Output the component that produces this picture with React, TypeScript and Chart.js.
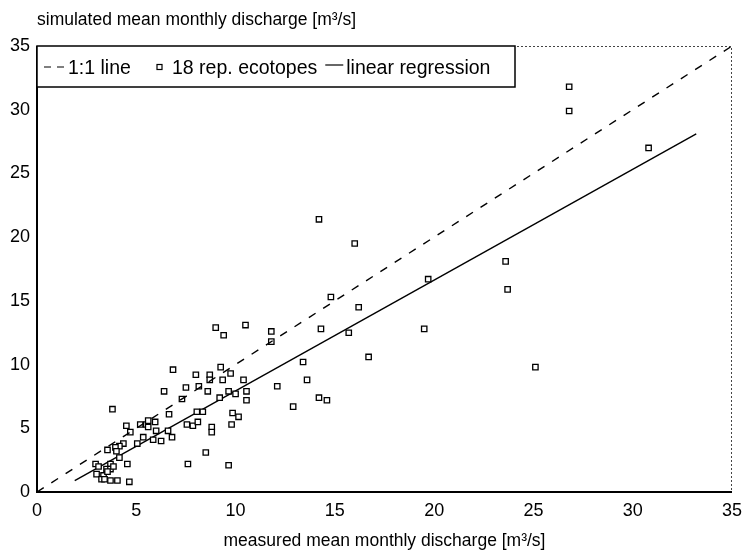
import React, { useEffect, useRef } from "react";
import { Chart, registerables } from "chart.js";

Chart.register(...registerables);

// measured (x) and simulated (y) mean monthly discharge, m³/s
const measured = [
  26.8, 26.8, 30.8, 23.6, 23.7, 25.1, 19.7, 19.5, 16.7, 14.2,
  16.0, 14.8, 16.2, 15.7, 14.3, 13.4, 13.6, 12.1, 12.9, 14.2,
  14.6, 11.8, 11.8, 9.0, 9.4, 10.5, 9.25, 8.7, 8.7, 9.75,
  9.35, 10.4, 6.85, 8.0, 8.15, 7.5, 6.4, 8.6, 9.65, 10.0,
  10.55, 10.55, 9.2, 7.3, 6.65, 8.05, 8.35, 9.85, 10.15, 9.8,
  8.8, 8.8, 7.55, 7.85, 8.1, 7.6, 8.5, 9.65, 3.8, 4.5,
  4.7, 5.2, 5.5, 5.6, 5.95, 5.6, 6.0, 6.6, 5.85, 6.25,
  6.8, 5.35, 5.05, 4.35, 4.15, 3.95, 4.0, 3.55, 4.15, 3.7,
  4.55, 2.95, 3.1, 3.5, 3.7, 3.85, 3.0, 3.35, 3.55, 3.25,
  3.4, 3.7, 4.05, 4.65,
];
const simulated = [
  31.8, 29.9, 27.0, 18.1, 15.9, 9.8, 16.7, 12.8, 10.6, 21.4,
  19.5, 15.3, 14.5, 12.5, 12.8, 10.2, 8.8, 8.3, 6.7, 7.4,
  7.2, 12.6, 11.8, 12.9, 12.3, 13.1, 9.8, 9.2, 8.8, 9.3,
  8.8, 8.8, 9.6, 9.2, 8.3, 8.2, 7.9, 7.9, 7.9, 7.7,
  7.9, 7.2, 7.4, 7.3, 6.1, 6.3, 6.3, 6.2, 5.9, 5.3,
  5.1, 4.7, 5.3, 5.2, 5.5, 2.2, 3.1, 2.1, 6.5, 5.2,
  4.7, 5.3, 5.3, 5.6, 5.5, 5.1, 4.8, 4.8, 4.1, 4.0,
  4.3, 4.3, 3.8, 3.8, 3.6, 3.5, 3.2, 3.3, 2.7, 2.2,
  2.2, 2.2, 2.0, 1.8, 1.8, 2.0, 1.4, 1.3, 1.6, 1.0,
  1.0, 0.9, 0.9, 0.8,
];

const oneToOneX = [0, 35];
const oneToOneY = [0, 35];
const regressionX = [1.9, 33.2];
const regressionY = [0.9, 28.1];

const axisTicks = [0, 5, 10, 15, 20, 25, 30, 35];
const seriesLabels = ["1:1 line", "18 rep. ecotopes", "linear regression"];
const yTitle = "simulated mean monthly discharge [m³/s]";
const xTitle = "measured mean monthly discharge [m³/s]";

const FONT = '"Liberation Sans", Arial, Helvetica, sans-serif';

const decorPlugin = {
  id: "decor",
  afterDraw(chart: any) {
    const { ctx, chartArea } = chart;
    const { left, right, top, bottom } = chartArea;
    ctx.save();
    // dotted top / right frame
    ctx.strokeStyle = "#444";
    ctx.lineWidth = 1;
    ctx.setLineDash([2, 2]);
    ctx.beginPath();
    ctx.moveTo(left, top + 0.5);
    ctx.lineTo(right - 0.5, top + 0.5);
    ctx.lineTo(right - 0.5, bottom);
    ctx.stroke();
    ctx.setLineDash([]);
    // solid left / bottom axes
    ctx.strokeStyle = "#000";
    ctx.lineWidth = 2;
    ctx.beginPath();
    ctx.moveTo(left, top);
    ctx.lineTo(left, bottom);
    ctx.lineTo(right, bottom);
    ctx.stroke();

    // axis titles
    ctx.fillStyle = "#000";
    ctx.font = `17.5px ${FONT}`;
    ctx.textBaseline = "middle";
    ctx.textAlign = "left";
    ctx.fillText(yTitle, left, 20);
    ctx.textAlign = "center";
    ctx.fillText(xTitle, (left + right) / 2, 541);

    // legend box
    const ds = chart.data.datasets;
    const lh = 41;
    const cy = top + 22;
    ctx.font = `19.5px ${FONT}`;
    const boxRight = left + 478;
    ctx.fillStyle = "#fff";
    ctx.fillRect(left, top, boxRight - left, lh);
    ctx.strokeStyle = "#000";
    ctx.lineWidth = 1.5;
    ctx.strokeRect(left, top, boxRight - left, lh);
    ctx.fillStyle = "#000";
    ctx.textAlign = "left";
    // item 1: dashed line
    let x = left + 7;
    ctx.lineWidth = 1.2;
    ctx.setLineDash([7, 6]);
    ctx.beginPath();
    ctx.moveTo(x, cy - 1);
    ctx.lineTo(x + 20, cy - 1);
    ctx.stroke();
    ctx.setLineDash([]);
    x += 24;
    ctx.fillText(ds[0].label, x, cy + 1);
    // item 2: square marker
    x = left + 120;
    ctx.strokeRect(x, cy - 3.5, 5, 5);
    x += 15;
    ctx.fillText(ds[1].label, x, cy + 1);
    // item 3: solid line
    x += ctx.measureText(ds[1].label).width + 8;
    ctx.beginPath();
    ctx.moveTo(x, cy - 3);
    ctx.lineTo(x + 18, cy - 3);
    ctx.stroke();
    x += 21;
    ctx.fillText(ds[2].label, x, cy + 1);
    ctx.restore();
  },
};

export default function App() {
  const ref = useRef<HTMLCanvasElement | null>(null);
  useEffect(() => {
    document.body.style.margin = "0";
    const canvas = ref.current;
    if (!canvas) return;
    const chart = new Chart(canvas, {
      type: "scatter",
      data: {
        datasets: [
          {
            type: "line",
            label: seriesLabels[0],
            data: oneToOneX.map((v, i) => ({ x: v, y: oneToOneY[i] })),
            borderColor: "#000",
            borderWidth: 1.4,
            borderDash: [8, 9],
            pointRadius: 0,
            fill: false,
          },
          {
            type: "scatter",
            label: seriesLabels[1],
            data: measured.map((v, i) => ({ x: v, y: simulated[i] })),
            pointStyle: "rect",
            pointRadius: 3.8,
            borderWidth: 1.3,
            borderColor: "#000",
            backgroundColor: "#fff",
          },
          {
            type: "line",
            label: seriesLabels[2],
            data: regressionX.map((v, i) => ({ x: v, y: regressionY[i] })),
            borderColor: "#000",
            borderWidth: 1.4,
            pointRadius: 0,
            fill: false,
          },
        ],
      },
      options: {
        animation: false,
        responsive: true,
        maintainAspectRatio: false,
        layout: { padding: { top: 46, right: 15, left: 0, bottom: 0 } },
        plugins: { legend: { display: false }, tooltip: { enabled: false } },
        scales: {
          x: {
            type: "linear",
            min: 0,
            max: 35,
            afterFit: (s: any) => {
              s.height = 63;
            },
            afterBuildTicks: (s: any) => {
              s.ticks = axisTicks.map((v) => ({ value: v }));
            },
            grid: { display: false, drawTicks: false },
            border: { display: false },
            ticks: {
              padding: 8,
              color: "#000",
              font: { family: FONT, size: 18 },
              maxRotation: 0,
            },
          },
          y: {
            type: "linear",
            min: 0,
            max: 35,
            afterFit: (s: any) => {
              s.width = 37;
            },
            afterBuildTicks: (s: any) => {
              s.ticks = axisTicks.map((v) => ({ value: v }));
            },
            grid: { display: false, drawTicks: false },
            border: { display: false },
            ticks: {
              padding: 7,
              color: "#000",
              font: { family: FONT, size: 18 },
            },
          },
        },
      },
      plugins: [decorPlugin],
    });
    return () => chart.destroy();
  }, []);
  return (
    <div style={{ width: 750, height: 555, position: "relative" }}>
      <canvas ref={ref} />
    </div>
  );
}
